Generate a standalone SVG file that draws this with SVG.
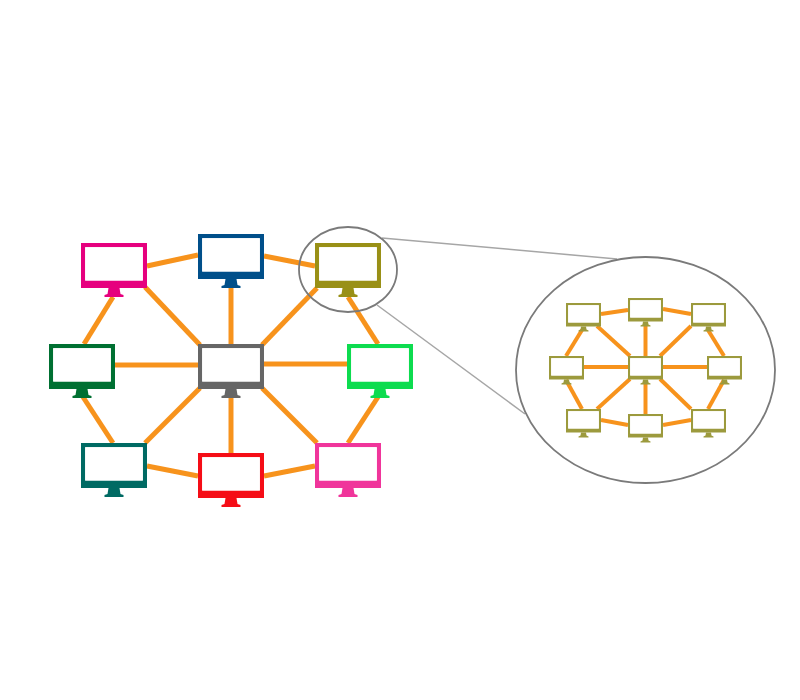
<svg xmlns="http://www.w3.org/2000/svg" width="800" height="700" viewBox="0 0 800 700">
  <defs>
    <style>
      .edge { stroke: #f7931e; stroke-width: 5; fill: none; }
      .edge-s { stroke: #f7931e; stroke-width: 4; fill: none; }
      .ring { fill: none; stroke: #7a7a7a; stroke-width: 1.8; }
      .lead { fill: none; stroke: #a6a6a6; stroke-width: 1.5; }
      .mini { color: #9c9a3c; }
    </style>
    <filter id="soft" x="-5%" y="-5%" width="110%" height="110%"><feGaussianBlur stdDeviation="0.5"/></filter>
    <g id="monitor">
      <path fill="currentColor" fill-rule="evenodd" d="M0 0H66V45H0ZM4.200 4.200V37.500H61.800V4.200Z"/>
      <rect x="4.200" y="4.200" width="57.600" height="33.300" fill="#fff"/>
      <path fill="currentColor" d="M27.500 45H38.500L39.500 51L42.500 52V54H23.500V52L26.500 51Z"/>
    </g>
    <g id="monitor-s">
      <path fill="currentColor" fill-rule="evenodd" d="M0 0H35V23.500H0ZM2.200 2.200V19.500H32.800V2.200Z"/>
      <rect x="2.200" y="2.200" width="30.600" height="17.300" fill="#fff"/>
      <path fill="currentColor" d="M15 23.500H20L20.500 26.500L22.500 27.500V28.500H12.500V27.500L14.500 26.500Z"/>
    </g>
  </defs>
  <rect width="800" height="700" fill="#fff"/>
  <g filter="url(#soft)">
    <g id="connectors" class="edge">
      <path d="M147 266L198 255"/>
      <path d="M264 256L315 266"/>
      <path d="M145 287L200 345"/>
      <path d="M231 287V344"/>
      <path d="M317 288L262 345"/>
      <path d="M114 365H198"/>
      <path d="M264 364H347"/>
      <path d="M113 297L84 344"/>
      <path d="M348 297L378 344"/>
      <path d="M83 397L113 443"/>
      <path d="M378 397L348 443"/>
      <path d="M145 443L200 388"/>
      <path d="M317 443L262 388"/>
      <path d="M231 397V453"/>
      <path d="M147 466L198 476"/>
      <path d="M264 476L315 466"/>
    </g>
    <g id="node-pink" color="#e6007e"><use href="#monitor" x="81" y="243"/></g>
    <g id="node-blue" color="#004f8a"><use href="#monitor" x="198" y="234"/></g>
    <g id="node-olive" color="#999015"><use href="#monitor" x="315" y="243"/></g>
    <g id="node-darkgreen" color="#007030"><use href="#monitor" x="49" y="344"/></g>
    <g id="node-gray" color="#666666"><use href="#monitor" x="198" y="344"/></g>
    <g id="node-lightgreen" color="#10dc50"><use href="#monitor" x="347" y="344"/></g>
    <g id="node-teal" color="#006b63"><use href="#monitor" x="81" y="443"/></g>
    <g id="node-red" color="#f50f14"><use href="#monitor" x="198" y="453"/></g>
    <g id="node-hotpink" color="#f0349b"><use href="#monitor" x="315" y="443"/></g>

    <g id="zoom-leads" class="lead">
      <path d="M382 238L617 259"/>
      <path d="M377 305L525 414"/>
    </g>
    <g id="zoom-source"><ellipse class="ring" cx="348" cy="269.500" rx="49" ry="42.500"/></g>
    <g id="zoom-lens"><ellipse class="ring" cx="645.500" cy="370" rx="129.500" ry="113"/></g>

    <g id="mini-connectors" class="edge-s">
      <path d="M601 314L628 310"/>
      <path d="M663 309L691 314"/>
      <path d="M597 326L630 356"/>
      <path d="M645.500 325V356"/>
      <path d="M691 326L660 356"/>
      <path d="M582 330L566 356"/>
      <path d="M708 330L724 356"/>
      <path d="M583 367H628"/>
      <path d="M663 367H707"/>
      <path d="M566 380L582 409"/>
      <path d="M724 380L708 409"/>
      <path d="M597 409L630 379"/>
      <path d="M691 409L660 379"/>
      <path d="M645.500 380V414"/>
      <path d="M601 420L628 425"/>
      <path d="M663 425L691 420"/>
    </g>
    <g id="mini-1" class="mini"><use href="#monitor-s" x="566" y="303"/></g>
    <g id="mini-2" class="mini"><use href="#monitor-s" x="628" y="298"/></g>
    <g id="mini-3" class="mini"><use href="#monitor-s" x="691" y="303"/></g>
    <g id="mini-4" class="mini"><use href="#monitor-s" x="549" y="356"/></g>
    <g id="mini-5" class="mini"><use href="#monitor-s" x="628" y="356"/></g>
    <g id="mini-6" class="mini"><use href="#monitor-s" x="707" y="356"/></g>
    <g id="mini-7" class="mini"><use href="#monitor-s" x="566" y="409"/></g>
    <g id="mini-8" class="mini"><use href="#monitor-s" x="628" y="414"/></g>
    <g id="mini-9" class="mini"><use href="#monitor-s" x="691" y="409"/></g>
  </g>
</svg>
